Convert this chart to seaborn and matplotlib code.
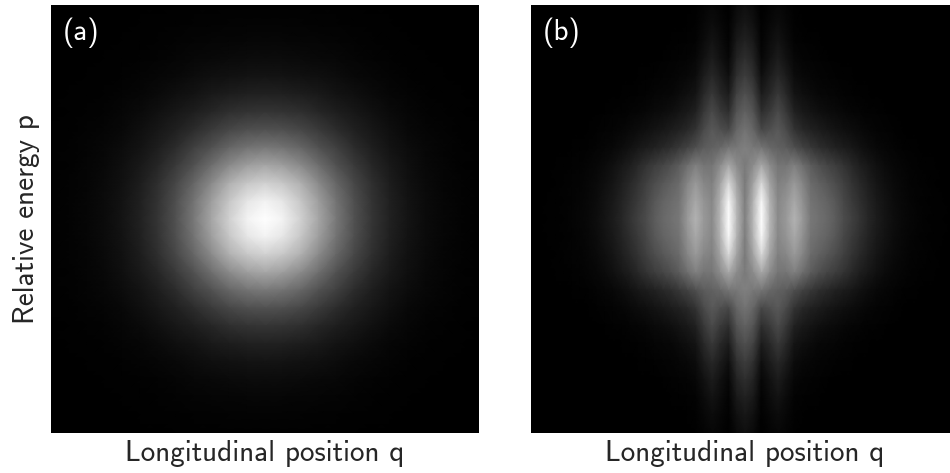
import numpy as np
import seaborn as sns
import matplotlib.pyplot as plt

# upper-left quadrant values, centre row/column first
quad_a = [
    [1, .95, .82, .65, .47, .32, .21, .13, .08, .045, .025, .013, .007],
    [.95, .90, .78, .62, .45, .31, .20, .127, .078, .044, .024, .013, .007],
    [.82, .78, .69, .54, .40, .28, .185, .115, .07, .04, .022, .012, .006],
    [.65, .62, .54, .43, .32, .23, .15, .10, .06, .035, .02, .011, .006],
    [.47, .45, .40, .32, .25, .175, .12, .078, .047, .028, .016, .009, .005],
    [.32, .31, .28, .23, .175, .127, .09, .06, .035, .02, .012, .007, .004],
    [.21, .20, .185, .15, .12, .09, .063, .04, .025, .015, .009, .005, .003],
    [.13, .127, .115, .10, .078, .06, .04, .027, .018, .011, .006, .004, .002],
    [.08, .078, .07, .06, .047, .035, .025, .018, .011, .007, .005, .003, .002],
    [.045, .044, .04, .035, .028, .02, .015, .011, .007, .005, .003, .002, .001],
    [.025, .024, .022, .02, .016, .012, .009, .006, .005, .003, .002, .001, .001],
    [.013, .013, .012, .011, .009, .007, .005, .004, .003, .002, .001, .001, 0],
    [.007, .007, .006, .006, .005, .004, .003, .002, .002, .001, .001, 0, 0],
]

quad_b = [
    [.50, .72, 1.0, .72, .54, .60, .70, .60, .47, .44, .41, .36, .30, .25, .20, .15, .11, .08, .055, .038, .027, .017, .011, .007, .004, .002, .001],
    [.49, .70, .97, .70, .53, .58, .66, .57, .45, .42, .39, .34, .28, .23, .18, .14, .10, .075, .05, .034, .023, .015, .01, .006, .004, .002, .001],
    [.48, .64, .85, .64, .50, .53, .60, .52, .42, .38, .34, .30, .25, .20, .16, .12, .085, .06, .04, .028, .018, .012, .008, .005, .003, .002, .001],
    [.48, .55, .66, .55, .46, .46, .50, .43, .36, .31, .27, .24, .20, .16, .12, .09, .065, .045, .03, .02, .013, .009, .006, .004, .002, .001, .001],
    [.50, .47, .46, .41, .38, .36, .31, .26, .22, .18, .16, .13, .11, .09, .07, .05, .035, .025, .017, .011, .007, .005, .003, .002, .001, .001, 0],
    [.45, .40, .28, .31, .35, .29, .20, .16, .13, .11, .09, .075, .06, .05, .036, .026, .018, .012, .008, .005, .003, .002, .001, .001, 0, 0, 0],
    [.38, .33, .18, .23, .29, .22, .13, .10, .08, .06, .05, .04, .03, .023, .016, .011, .008, .005, .003, .002, .001, .001, 0, 0, 0, 0, 0],
    [.31, .26, .11, .16, .22, .16, .08, .06, .045, .03, .025, .02, .014, .01, .007, .005, .003, .002, .001, .001, 0, 0, 0, 0, 0, 0, 0],
    [.24, .19, .06, .11, .16, .11, .05, .035, .025, .018, .012, .008, .006, .004, .003, .002, .001, .001, 0, 0, 0, 0, 0, 0, 0, 0, 0],
    [.18, .14, .03, .07, .11, .07, .03, .018, .012, .008, .005, .003, .002, .001, .001, 0, 0, 0, 0, 0, 0, 0, 0, 0, 0, 0, 0],
    [.13, .10, .015, .05, .075, .045, .015, .01, .006, .004, .002, .001, .001, 0, 0, 0, 0, 0, 0, 0, 0, 0, 0, 0, 0, 0, 0],
    [.09, .065, .008, .03, .05, .03, .008, .005, .003, .001, .001, 0, 0, 0, 0, 0, 0, 0, 0, 0, 0, 0, 0, 0, 0, 0, 0],
    [.06, .04, .003, .018, .03, .016, .004, .002, .001, 0, 0, 0, 0, 0, 0, 0, 0, 0, 0, 0, 0, 0, 0, 0, 0, 0, 0],
]

panel_labels = ['(a)', '(b)']
xlabel = 'Longitudinal position q'
ylabel = 'Relative energy p'


def mirror(quad):
    # the picture is symmetric about both axes
    quad = np.array(quad)
    wide = np.hstack([quad[:, :0:-1], quad])
    return np.vstack([wide[:0:-1], wide])


sns.set_style('white')
plt.rcParams['font.family'] = ['cmss10', 'DejaVu Sans']

fig = plt.figure(figsize=(9.5, 4.73), dpi=100)
ax_a = fig.add_axes([51 / 950, 40 / 473, 428 / 950, 428 / 473])
ax_b = fig.add_axes([531 / 950, 40 / 473, 428 / 950, 428 / 473])

for ax, quad, label in zip([ax_a, ax_b], [quad_a, quad_b], panel_labels):
    data = mirror(quad)
    sns.heatmap(data, ax=ax, cmap='gray', vmin=0, vmax=1, cbar=False,
                xticklabels=False, yticklabels=False, shading='gouraud')
    ax.set_xlim(0, data.shape[1] - 1)
    ax.set_ylim(data.shape[0] - 1, 0)
    ax.set_xlabel(xlabel, fontsize=21, labelpad=5)
    ax.text(0.027, 0.97, label, transform=ax.transAxes, color='white',
            fontsize=21, va='top', ha='left')

ax_a.set_ylabel(ylabel, fontsize=21, labelpad=8)

fig.savefig('out.png', dpi=100)
